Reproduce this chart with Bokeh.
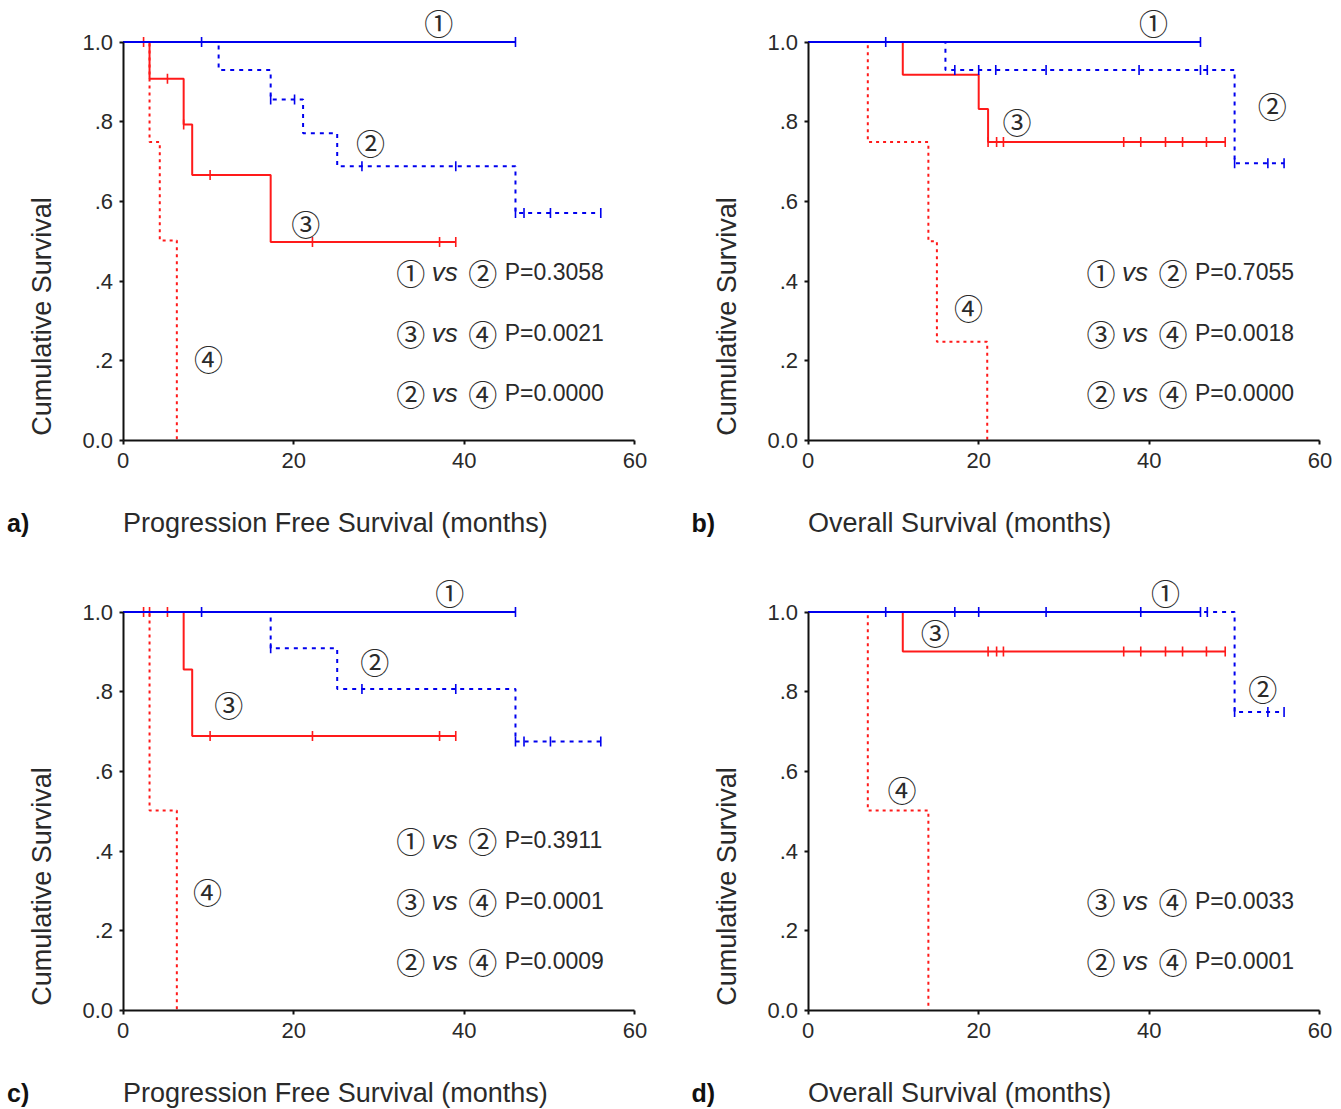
import math
import numpy as np
from bokeh.plotting import figure
from bokeh.models import Range1d, FixedTicker, LinearAxis
from bokeh.layouts import column, row
from bokeh.core.properties import value
from bokeh.embed import file_html
from bokeh.resources import INLINE

# ---------------- data (months, cumulative survival) ----------------
# Panel a: progression free survival
a1_t = [0, 46.0];                                   a1_s = [1.0, 1.0]
a1_c = [9.2, 46.0]
a2_t = [0, 11.2, 17.3, 21.1, 25.1, 46.0, 56.0];    a2_s = [1.0, 0.930, 0.856, 0.771, 0.688, 0.571, 0.571]
a2_c = [17.3, 20.1, 28.0, 39.0, 46.0, 47.0, 50.1, 56.0]
a3_t = [0, 3.1, 7.1, 8.1, 17.3, 39.0];             a3_s = [1.0, 0.908, 0.793, 0.666, 0.498, 0.498]
a3_c = [2.4, 5.2, 7.1, 10.2, 22.2, 37.1, 39.0]
a4_t = [0, 3.1, 4.3, 6.3];                         a4_s = [1.0, 0.749, 0.502, 0.0]
a4_c = []
a_p = ["0.3058", "0.0021", "0.0000"]
a_pairs = [("①", "②"), ("③", "④"), ("②", "④")]

# Panel b: overall survival
b1_t = [0, 46.0];                                   b1_s = [1.0, 1.0]
b1_c = [9.1, 46.0]
b2_t = [0, 16.1, 50.0, 55.8];                       b2_s = [1.0, 0.930, 0.696, 0.696]
b2_c = [17.2, 20.0, 22.0, 27.9, 38.8, 46.0, 46.8, 50.0, 53.9, 55.8]
b3_t = [0, 11.1, 20.0, 21.1, 48.9];                 b3_s = [1.0, 0.918, 0.832, 0.749, 0.749]
b3_c = [21.1, 22.1, 22.9, 37.0, 39.0, 41.9, 43.9, 46.7, 48.9]
b4_t = [0, 7.0, 14.1, 15.1, 21.0];                  b4_s = [1.0, 0.749, 0.500, 0.248, 0.0]
b4_c = []
b_p = ["0.7055", "0.0018", "0.0000"]
b_pairs = [("①", "②"), ("③", "④"), ("②", "④")]

# Panel c: progression free survival
c1_t = [0, 46.0];                                   c1_s = [1.0, 1.0]
c1_c = [9.2, 46.0]
c2_t = [0, 17.3, 25.1, 46.0, 56.0];                 c2_s = [1.0, 0.909, 0.807, 0.675, 0.675]
c2_c = [17.3, 28.0, 39.0, 46.0, 47.0, 50.1, 56.0]
c3_t = [0, 7.1, 8.1, 39.0];                         c3_s = [1.0, 0.856, 0.689, 0.689]
c3_c = [2.4, 3.1, 5.2, 10.2, 22.2, 37.1, 39.0]
c4_t = [0, 3.1, 6.3];                               c4_s = [1.0, 0.502, 0.0]
c4_c = []
c_p = ["0.3911", "0.0001", "0.0009"]
c_pairs = [("①", "②"), ("③", "④"), ("②", "④")]

# Panel d: overall survival
d1_t = [0, 46.0];                                   d1_s = [1.0, 1.0]
d1_c = [9.1, 46.0]
d2_t = [0, 50.0, 55.8];                             d2_s = [1.0, 0.749, 0.749]
d2_c = [17.2, 20.0, 27.9, 39.0, 46.8, 50.0, 53.9, 55.8]
d3_t = [0, 11.1, 48.9];                             d3_s = [1.0, 0.901, 0.901]
d3_c = [21.1, 22.1, 22.9, 37.0, 39.0, 41.9, 43.9, 46.7, 48.9]
d4_t = [0, 7.0, 14.1];                              d4_s = [1.0, 0.502, 0.0]
d4_c = []
d_p = ["0.0033", "0.0001"]
d_pairs = [("③", "④"), ("②", "④")]

x_ticks = [0, 20, 40, 60]
y_ticks = [0, 0.2, 0.4, 0.6, 0.8, 1.0]
y_tick_labels = ["0.0", ".2", ".4", ".6", ".8", "1.0"]
circled = ["①", "②", "③", "④"]

# ---------------- styling ----------------
BLUE = "#0000ee"
RED = "#ff1a1a"
TXT = "#2a2a2a"
SANS = "Liberation Sans"
CJK = "Noto Sans CJK JP"
PX_PER_MONTH = 8.53
PX_PER_UNIT = 398.5
X0_PX = 122.6


def surv_at(t, s, tc):
    idx = np.searchsorted(np.asarray(t), np.asarray(tc, dtype=float), side="right") - 1
    return [s[i] for i in idx]


def panel(width, height, y0_px, curves, circ_pos, pairs, pvals, p_y, p_x,
          letter, xtitle):
    xr = Range1d(-X0_PX / PX_PER_MONTH, (width - X0_PX) / PX_PER_MONTH)
    yr = Range1d(-(height - y0_px) / PX_PER_UNIT, y0_px / PX_PER_UNIT)
    p = figure(width=width, height=height, x_range=xr, y_range=yr,
               output_backend="svg", toolbar_location=None,
               x_axis_location=None, y_axis_location=None,
               min_border_left=0, min_border_right=0, min_border_top=0,
               min_border_bottom=0)
    p.xgrid.visible = False
    p.ygrid.visible = False
    p.outline_line_color = None
    p.background_fill_color = "white"
    p.border_fill_color = "white"

    xa = LinearAxis(fixed_location=0, bounds=(0, 60), ticker=FixedTicker(ticks=x_ticks))
    ya = LinearAxis(fixed_location=0, bounds=(0, 1), ticker=FixedTicker(ticks=y_ticks))
    for ax in (xa, ya):
        ax.axis_line_width = 2
        ax.axis_line_color = "#111111"
        ax.major_tick_line_color = "#111111"
        ax.major_tick_line_width = 2
        ax.major_tick_in = 0
        ax.major_tick_out = 4
        ax.minor_tick_line_color = None
        ax.major_label_text_font = SANS
        ax.major_label_text_font_size = "22px"
        ax.major_label_text_color = TXT
    xa.major_label_standoff = 8
    ya.major_label_standoff = 6
    ya.major_label_overrides = {k: v for k, v in zip(y_ticks, y_tick_labels)}
    p.add_layout(xa, "below")
    p.add_layout(ya, "left")

    # curves: draw 4, 3, 2, 1 so the solid blue lies on top
    styles = {1: (BLUE, "solid"), 2: (BLUE, "4 5"), 3: (RED, "solid"), 4: (RED, "3 4")}
    for k in (4, 3, 2, 1):
        t, s, tc = curves[k]
        col, dash = styles[k]
        p.step(x=t, y=s, mode="after", line_color=col, line_width=2, line_dash=dash)
        if tc:
            p.scatter(x=tc, y=surv_at(t, s, tc), marker="dash", angle=math.pi / 2,
                      size=10, line_color=col, line_width=1.6)

    # circled curve labels
    xs = [circ_pos[k][0] for k in (1, 2, 3, 4)]
    ys = [circ_pos[k][1] for k in (1, 2, 3, 4)]
    p.text(x=xs, y=ys, text=circled, text_font=value(CJK), text_font_size="29px",
           text_align="center", text_baseline="middle", text_color=TXT)

    # p-value lines
    for (ca, cb), pv, yy in zip(pairs, pvals, p_y):
        p.text(x=[p_x], y=[yy], text=[ca], x_offset=13, text_font=value(CJK),
               text_font_size="29px", text_align="center", text_baseline="middle",
               text_color=TXT)
        p.text(x=[p_x], y=[yy], text=["vs"], x_offset=34, text_font=value(SANS),
               text_font_style="italic", text_font_size="26px", text_align="left",
               text_baseline="middle", text_color=TXT)
        p.text(x=[p_x], y=[yy], text=[cb], x_offset=85, text_font=value(CJK),
               text_font_size="29px", text_align="center", text_baseline="middle",
               text_color=TXT)
        p.text(x=[p_x], y=[yy], text=["P=" + pv], x_offset=107, text_font=value(SANS),
               text_font_size="23px", text_align="left", text_baseline="middle",
               text_color=TXT)

    # titles
    p.text(x=[-9.45], y=[0.311], text=["Cumulative Survival"], angle=math.pi / 2,
           text_font=value(SANS), text_font_size="27px", text_color=TXT,
           text_align="center", text_baseline="middle")
    p.text(x=[0], y=[-0.206], text=[xtitle], text_font=value(SANS), text_font_size="27px",
           text_color=TXT, text_align="left", text_baseline="middle")
    p.text(x=[-12.3], y=[-0.206], text=[letter], text_font=value(SANS),
           text_font_size="25px", text_font_style="bold", text_color="#111111",
           text_align="center", text_baseline="middle")
    return p


pa = panel(685, 569, 440,
           {1: (a1_t, a1_s, a1_c), 2: (a2_t, a2_s, a2_c), 3: (a3_t, a3_s, a3_c), 4: (a4_t, a4_s, a4_c)},
           {1: (37.0, 1.049), 2: (29.0, 0.748), 3: (21.4, 0.545), 4: (10.0, 0.206)},
           a_pairs, a_p, [0.422, 0.271, 0.120], 32.2,
           "a)", "Progression Free Survival (months)")
pb = panel(656, 569, 440,
           {1: (b1_t, b1_s, b1_c), 2: (b2_t, b2_s, b2_c), 3: (b3_t, b3_s, b3_c), 4: (b4_t, b4_s, b4_c)},
           {1: (40.5, 1.049), 2: (54.4, 0.841), 3: (24.5, 0.803), 4: (18.8, 0.334)},
           b_pairs, b_p, [0.422, 0.271, 0.120], 32.8,
           "b)", "Overall Survival (months)")
pc = panel(685, 540, 441,
           {1: (c1_t, c1_s, c1_c), 2: (c2_t, c2_s, c2_c), 3: (c3_t, c3_s, c3_c), 4: (c4_t, c4_s, c4_c)},
           {1: (38.3, 1.049), 2: (29.5, 0.876), 3: (12.4, 0.768), 4: (9.9, 0.301)},
           c_pairs, c_p, [0.427, 0.276, 0.125], 32.2,
           "c)", "Progression Free Survival (months)")
pd_ = panel(656, 540, 441,
            {1: (d1_t, d1_s, d1_c), 2: (d2_t, d2_s, d2_c), 3: (d3_t, d3_s, d3_c), 4: (d4_t, d4_s, d4_c)},
            {1: (41.9, 1.049), 2: (53.3, 0.810), 3: (14.9, 0.951), 4: (11.0, 0.557)},
            d_pairs, d_p, [0.276, 0.125], 32.8,
            "d)", "Overall Survival (months)")

layout = column(row(pa, pb), row(pc, pd_))
open("out.html", "w").write(file_html(layout, INLINE))
